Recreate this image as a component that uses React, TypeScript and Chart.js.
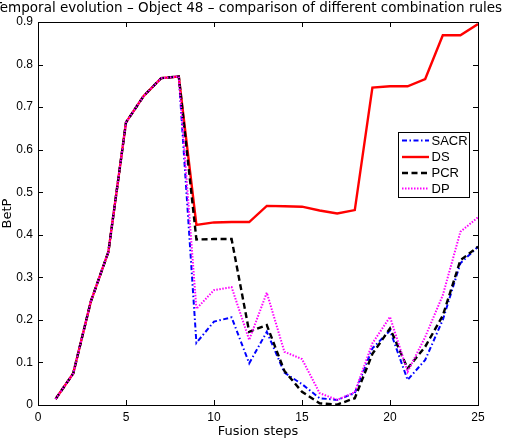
import React, { useEffect, useRef } from "react";
import { Chart, registerables } from "chart.js";

Chart.register(...registerables);

const steps = [1, 2, 3, 4, 5, 6, 7, 8, 9, 10, 11, 12, 13, 14, 15, 16, 17, 18, 19, 20, 21, 22, 23, 24, 25];
const sacr = [0.014, 0.074, 0.243, 0.36, 0.664, 0.726, 0.768, 0.772, 0.146, 0.196, 0.206, 0.098, 0.172, 0.076, 0.049, 0.016, 0.012, 0.028, 0.133, 0.175, 0.059, 0.106, 0.2, 0.333, 0.372];
const ds = [0.014, 0.074, 0.243, 0.36, 0.664, 0.726, 0.768, 0.772, 0.423, 0.429, 0.43, 0.43, 0.468, 0.467, 0.466, 0.457, 0.45, 0.458, 0.746, 0.749, 0.749, 0.766, 0.869, 0.869, 0.895];
const pcr = [0.014, 0.074, 0.243, 0.36, 0.664, 0.726, 0.768, 0.772, 0.389, 0.39, 0.39, 0.172, 0.188, 0.08, 0.031, 0.004, 0.001, 0.016, 0.12, 0.18, 0.086, 0.137, 0.21, 0.34, 0.372];
const dp = [0.014, 0.074, 0.243, 0.36, 0.664, 0.726, 0.768, 0.772, 0.226, 0.27, 0.277, 0.153, 0.264, 0.125, 0.108, 0.028, 0.012, 0.03, 0.145, 0.207, 0.078, 0.16, 0.258, 0.407, 0.441];
const seriesNames = ["SACR", "DS", "PCR", "DP"];
const xTicks = [0, 5, 10, 15, 20, 25];
const yTickLabels = ["0", "0.1", "0.2", "0.3", "0.4", "0.5", "0.6", "0.7", "0.8", "0.9"];
const titleText = "Temporal evolution \u2013 Object 48 \u2013 comparison of different combination rules";
const xLabel = "Fusion steps";
const yLabel = "BetP";

const FONT = "'Liberation Sans', Arial, Helvetica, sans-serif";
const WIDE = "'DejaVu Sans', Verdana, sans-serif";

export default function App() {
  const ref = useRef<HTMLCanvasElement | null>(null);

  useEffect(() => {
    const canvas = ref.current;
    if (!canvas) return;
    const styles = [
      { color: "#0000ff", width: 2, dash: [5, 2.5, 1.5, 2.5] },
      { color: "#ff0000", width: 2.4, dash: [] as number[] },
      { color: "#000000", width: 2.4, dash: [6, 3.5] },
      { color: "#ff00ff", width: 2, dash: [1.5, 1.5] },
    ];
    const values = [sacr, ds, pcr, dp];
    const datasets = values.map((vals, i) => ({
      label: seriesNames[i],
      data: steps.map((s, j) => ({ x: s, y: vals[j] })),
      borderColor: styles[i].color,
      backgroundColor: styles[i].color,
      borderWidth: styles[i].width,
      borderDash: styles[i].dash,
      pointRadius: 0,
      tension: 0,
      fill: false,
      order: 4 - i,
    }));

    const framePlugin = {
      id: "frame",
      afterDraw(chart: any) {
        const { ctx, chartArea: a, scales } = chart;
        ctx.save();
        ctx.strokeStyle = "#000";
        ctx.lineWidth = 1;
        ctx.setLineDash([]);
        ctx.strokeRect(Math.round(a.left) + 0.5, Math.round(a.top) + 0.5, Math.round(a.right - a.left), Math.round(a.bottom - a.top));
        const tl = 5;
        ctx.beginPath();
        scales.x.ticks.forEach((t: any) => {
          const px = Math.round(scales.x.getPixelForValue(t.value)) + 0.5;
          ctx.moveTo(px, a.bottom);
          ctx.lineTo(px, a.bottom - tl);
          ctx.moveTo(px, a.top);
          ctx.lineTo(px, a.top + tl);
        });
        scales.y.ticks.forEach((t: any) => {
          const py = Math.round(scales.y.getPixelForValue(t.value)) + 0.5;
          ctx.moveTo(a.left, py);
          ctx.lineTo(a.left + tl, py);
          ctx.moveTo(a.right, py);
          ctx.lineTo(a.right - tl, py);
        });
        ctx.stroke();

        // title
        ctx.fillStyle = "#000";
        ctx.font = `13.5px ${WIDE}`;
        ctx.textAlign = "center";
        ctx.textBaseline = "alphabetic";
        ctx.fillText(titleText, 248, 12);

        // legend
        const lx = 398, ly = 132, lw = 71, lh = 65;
        ctx.fillStyle = "#fff";
        ctx.fillRect(lx, ly, lw, lh);
        ctx.strokeStyle = "#000";
        ctx.lineWidth = 1;
        ctx.strokeRect(lx + 0.5, ly + 0.5, lw, lh);
        const rows = [140.5, 157, 173, 188.5];
        chart.data.datasets.forEach((d: any, i: number) => {
          const y = rows[i];
          ctx.beginPath();
          ctx.strokeStyle = d.borderColor;
          ctx.lineWidth = d.borderWidth;
          ctx.setLineDash(d.borderDash);
          ctx.moveTo(402, y);
          ctx.lineTo(429, y);
          ctx.stroke();
          ctx.setLineDash([]);
          ctx.fillStyle = "#000";
          ctx.font = `13px ${FONT}`;
          ctx.textAlign = "left";
          ctx.textBaseline = "middle";
          ctx.fillText(d.label, 431.5, y + 0.5);
        });
        ctx.restore();
      },
    };

    const chart = new Chart(canvas, {
      type: "line",
      data: { datasets },
      options: {
        animation: false,
        responsive: false,
        maintainAspectRatio: false,
        devicePixelRatio: 1,
        layout: { padding: { top: 22, right: 30, left: 0, bottom: 0 } },
        plugins: {
          legend: { display: false },
          title: { display: false },
          tooltip: { enabled: false },
        },
        scales: {
          x: {
            type: "linear",
            min: 0,
            max: 25,
            afterBuildTicks: (scale: any) => {
              scale.ticks = xTicks.map((v) => ({ value: v }));
            },
            afterFit: (scale: any) => {
              scale.height = 35;
            },
            ticks: {
              color: "#000",
              font: { family: FONT, size: 12 },
              padding: 5,
              maxRotation: 0,
              callback: (v: any) => String(v),
            },
            grid: { display: true, drawOnChartArea: false, drawTicks: false },
            border: { display: true, color: "#000" },
            title: {
              display: true,
              text: xLabel,
              color: "#000",
              font: { family: WIDE, size: 13 },
              padding: { top: 0, bottom: 1 },
            },
          },
          y: {
            type: "linear",
            min: 0,
            max: 0.9,
            afterBuildTicks: (scale: any) => {
              scale.ticks = yTickLabels.map((l) => ({ value: parseFloat(l) }));
            },
            afterFit: (scale: any) => {
              scale.width = 38;
            },
            ticks: {
              color: "#000",
              font: { family: FONT, size: 12 },
              padding: 5,
              callback: (v: any) => yTickLabels[Math.round(Number(v) * 10)] ?? String(v),
            },
            grid: { display: true, drawOnChartArea: false, drawTicks: false },
            border: { display: true, color: "#000" },
            title: {
              display: true,
              text: yLabel,
              color: "#000",
              font: { family: WIDE, size: 13 },
              padding: { top: 0, bottom: 0 },
            },
          },
        },
      },
      plugins: [framePlugin],
    } as any);
    return () => chart.destroy();
  }, []);

  return (
    <div style={{ position: "absolute", left: 0, top: 0, width: 508, height: 440, background: "#fff" }}>
      <canvas ref={ref} width={508} height={440} style={{ width: 508, height: 440, display: "block" }} />
    </div>
  );
}
